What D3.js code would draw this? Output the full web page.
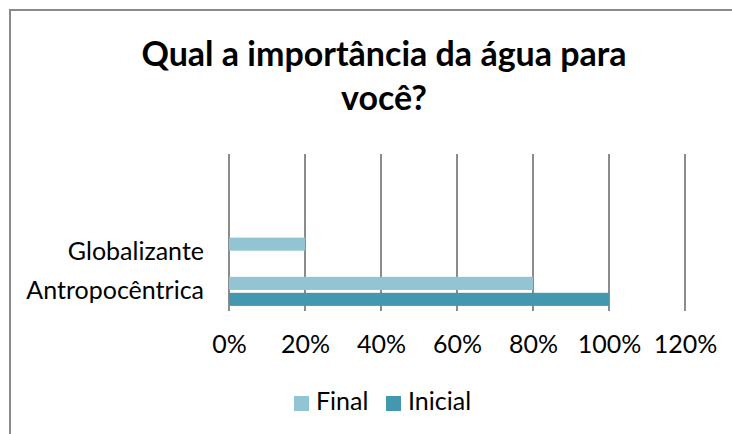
<!DOCTYPE html>
<html>
  <head>
    <meta charset="utf-8">
    <title>Qual a importância da água para você?</title>
    <script src="https://d3js.org/d3.v7.min.js"></script>
    <style>
      body { margin: 0; background: #fff; }
      svg text { font-family: Lato, "Open Sans", sans-serif; fill: #000; }
    </style>
  </head>
  <body>
    <svg id="chart" width="732" height="434"></svg>
    <script>
      // data, bottom category last (Excel draws the first category at the bottom)
      var categories = ["c1", "c2", "Globalizante", "Antropocêntrica"];
      var categoryLabels = ["", "", "Globalizante", "Antropocêntrica"];
      var series = ["Final", "Inicial"];
      var finalValues = [null, null, 0.2, 0.8];
      var inicialValues = [null, null, 0, 1.0];
      var tickValues = [0, 0.2, 0.4, 0.6, 0.8, 1.0, 1.2];
      var titleLines = ["Qual a importância da água para", "você?"];
      var colors = { Final: "#93c4d4", Inicial: "#4398af" };

      var chart = d3.select("#chart");
      var margin = { top: 154, right: 47, bottom: 123, left: 229 };
      var width = 732, height = 434;

      // frame (only top and left edges are inside the picture)
      chart.append("path")
        .attr("d", "M10,434V10H732")
        .attr("fill", "none")
        .attr("stroke", "#8a8a8a")
        .attr("stroke-width", 2);

      // title
      chart.append("g")
        .selectAll("text")
          .data(titleLines)
        .enter().append("text")
          .attr("x", 384)
          .attr("y", function(d, i) { return 66 + i * 44; })
          .attr("text-anchor", "middle")
          .style("font-weight", "bold")
          .style("font-size", "34px")
          .text(function(d) { return d; });

      var x = d3.scaleLinear()
        .domain([0, 1.2])
        .range([margin.left, width - margin.right]);
      var y = d3.scaleBand()
        .domain(categories)
        .range([margin.top, height - margin.bottom]);
      var inner = d3.scaleBand()
        .domain(series)
        .range([y.bandwidth() * 0.13, y.bandwidth() * 0.87])
        .paddingInner(0.18);

      // vertical gridlines
      chart.append("g")
        .selectAll("line")
          .data(tickValues)
        .enter().append("line")
          .attr("x1", function(d) { return x(d); })
          .attr("x2", function(d) { return x(d); })
          .attr("y1", y.range()[0])
          .attr("y2", y.range()[1])
          .attr("stroke", "#8c8c8c")
          .attr("stroke-width", 2);

      // bars
      var rows = categories.map(function(c, i) {
        return { category: c, Final: finalValues[i], Inicial: inicialValues[i] };
      });
      var barData = [];
      rows.forEach(function(r) {
        series.forEach(function(s) {
          if (r[s]) barData.push({ category: r.category, series: s, value: r[s] });
        });
      });
      chart.append("g")
        .selectAll("rect")
          .data(barData)
        .enter().append("rect")
          .attr("x", x(0))
          .attr("y", function(d) { return y(d.category) + inner(d.series); })
          .attr("width", function(d) { return x(d.value) - x(0); })
          .attr("height", inner.bandwidth())
          .attr("fill", function(d) { return colors[d.series]; });

      // x axis labels
      var xAxis = d3.axisBottom(x)
        .tickValues(tickValues)
        .tickSize(0)
        .tickPadding(0)
        .tickFormat(d3.format(".0%"));
      chart.append("g")
        .attr("transform", "translate(0, 335)")
        .call(xAxis)
        .call(function(g) {
          g.select(".domain").remove();
          g.selectAll("text")
            .attr("dy", "0.71em")
            .style("font-size", "25px")
            .style("font-family", "Lato, sans-serif")
            .attr("fill", "#000");
        });

      // y axis labels
      var yAxis = d3.axisLeft(y)
        .tickSize(0)
        .tickPadding(25)
        .tickFormat(function(d, i) { return categoryLabels[i]; });
      chart.append("g")
        .attr("transform", "translate(" + margin.left + ", 0)")
        .call(yAxis)
        .call(function(g) {
          g.select(".domain").remove();
          g.selectAll("text")
            .style("font-size", "25px")
            .style("font-family", "Lato, sans-serif")
            .attr("fill", "#000");
        });

      // legend
      var legendX = [294, 386];
      var legend = chart.append("g")
        .selectAll("g")
          .data(series)
        .enter().append("g")
          .attr("transform", function(d, i) { return "translate(" + legendX[i] + ", 396)"; });
      legend.append("rect")
        .attr("width", 15)
        .attr("height", 15)
        .attr("fill", function(d) { return colors[d]; });
      legend.append("text")
        .attr("x", 22)
        .attr("y", 14)
        .style("font-size", "25px")
        .text(function(d) { return d; });
    </script>
  </body>
</html>
